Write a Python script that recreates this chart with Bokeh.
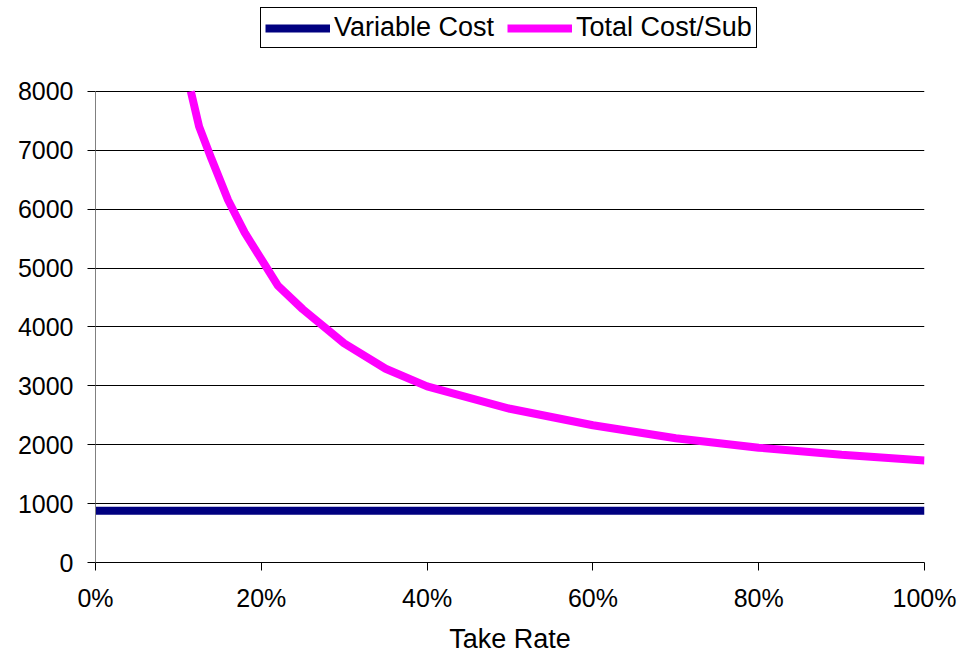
from bokeh.plotting import figure
from bokeh.models import Range1d, FixedTicker, NumeralTickFormatter, Legend, LegendItem, ColumnDataSource
from bokeh.embed import file_html
from bokeh.resources import INLINE

# Data
take_rate_var = [0.0, 0.1, 0.2, 0.3, 0.4, 0.5, 0.6, 0.7, 0.8, 0.9, 1.0]
variable_cost = [880, 880, 880, 880, 880, 880, 880, 880, 880, 880, 880]

take_rate_tot = [0.115, 0.125, 0.14, 0.16, 0.18, 0.20, 0.22, 0.25, 0.30, 0.35,
                 0.40, 0.50, 0.60, 0.70, 0.80, 0.90, 1.00]
total_cost_sub = [8000, 7400, 6850, 6150, 5600, 5150, 4700, 4300, 3720, 3290,
                  2990, 2610, 2330, 2110, 1950, 1830, 1730]

y_ticks = [0, 1000, 2000, 3000, 4000, 5000, 6000, 7000, 8000]
x_ticks = [0.0, 0.2, 0.4, 0.6, 0.8, 1.0]
series_names = ["Variable Cost", "Total Cost/Sub"]
series_colors = ["#000080", "#FF00FF"]

FONT = "Liberation Sans"

# Frame spans from the top of the page down to the x axis; the value axis
# itself (ticks, grid, axis line) only covers 0..8000, the space above holds
# the legend.
FRAME_PX = 563
AXIS_PX = 472
y_top = y_ticks[-1] * FRAME_PX / AXIS_PX

p = figure(width=962, height=656, output_backend="svg", toolbar_location=None,
           x_range=Range1d(x_ticks[0], x_ticks[-1]), y_range=Range1d(0, y_top),
           min_border_left=95, min_border_right=38, min_border_top=0, min_border_bottom=93)
p.outline_line_color = None
p.background_fill_color = "white"
p.border_fill_color = "white"

src_v = ColumnDataSource(dict(x=take_rate_var, y=variable_cost))
src_t = ColumnDataSource(dict(x=take_rate_tot, y=total_cost_sub))
r_v = p.line("x", "y", source=src_v, line_color=series_colors[0], line_width=8)
r_t = p.line("x", "y", source=src_t, line_color=series_colors[1], line_width=8)

p.xaxis.ticker = FixedTicker(ticks=x_ticks)
p.xaxis.formatter = NumeralTickFormatter(format="0%")
p.yaxis.ticker = FixedTicker(ticks=y_ticks)
p.yaxis.bounds = (y_ticks[0], y_ticks[-1])
for ax in (p.xaxis, p.yaxis):
    ax.major_label_text_font = FONT
    ax.major_label_text_font_size = "25px"
    ax.major_label_text_color = "black"
    ax.minor_tick_line_color = None
    ax.major_tick_out = 8
    ax.major_tick_in = 0
    ax.major_tick_line_color = "black"
p.yaxis.axis_line_color = "#808080"
p.xaxis.axis_line_color = "black"
p.yaxis.major_label_standoff = 14
p.xaxis.major_label_standoff = 13
p.xaxis.axis_label = "Take Rate"
p.xaxis.axis_label_text_font = FONT
p.xaxis.axis_label_text_font_size = "27px"
p.xaxis.axis_label_text_font_style = "normal"
p.xaxis.axis_label_text_color = "black"
p.xaxis.axis_label_standoff = 9

p.xgrid.grid_line_color = None
p.ygrid.grid_line_color = "black"
p.ygrid.grid_line_width = 1

legend = Legend(items=[LegendItem(label=series_names[0], renderers=[r_v]),
                       LegendItem(label=series_names[1], renderers=[r_t])],
                orientation="horizontal", location=(165, 514))
legend.label_text_font = FONT
legend.label_text_font_size = "27px"
legend.label_text_color = "black"
legend.glyph_width = 65
legend.label_standoff = 4
legend.spacing = 13
legend.padding = 4
legend.margin = 0
legend.border_line_color = "black"
legend.border_line_width = 1
legend.border_line_alpha = 1
legend.background_fill_alpha = 1
p.add_layout(legend, "center")

open("out.html", "w").write(file_html(p, INLINE))
